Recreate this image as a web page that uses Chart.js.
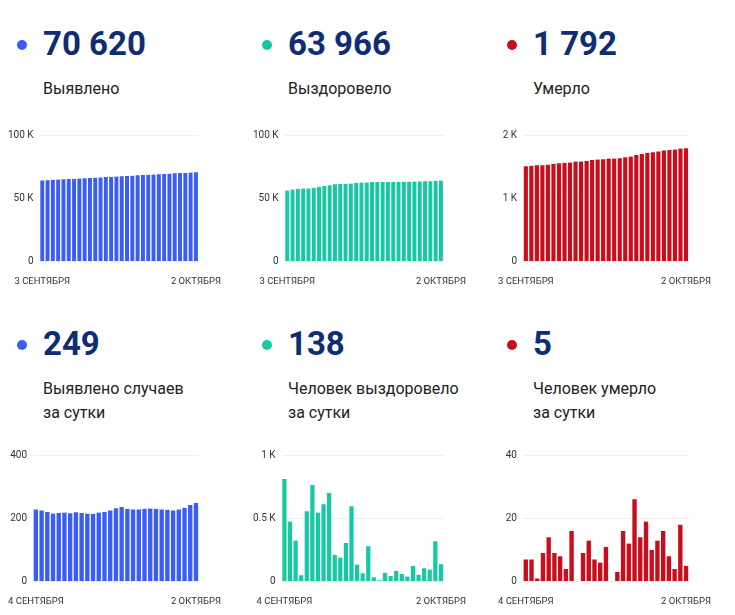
<!DOCTYPE html>
<html><head><meta charset="utf-8">
<script src="https://cdn.jsdelivr.net/npm/chart.js@4"></script>
<style>
body{margin:0;background:#fff;font-family:Roboto,sans-serif;width:735px;height:615px;position:relative;overflow:hidden}
.hd{position:absolute}
.num{position:absolute;font-size:33px;font-weight:700;color:#0e2d72;white-space:nowrap}
.dot{position:absolute;width:10px;height:10px;border-radius:50%}
.lab{position:absolute;font-size:16px;color:#222;line-height:24px;white-space:nowrap}
.cw{position:absolute;width:225px;height:170px}
</style></head><body>
<script>
const cumDays=[];for(let d=3;d<=30;d++)cumDays.push(d+' СЕНТЯБРЯ');cumDays.push('1 ОКТЯБРЯ','2 ОКТЯБРЯ');
const dayDays=cumDays.slice(1);
const casesTotal=[64120,64348,64573,64793,65008,65225,65443,65659,65878,66095,66310,66524,66742,66962,67187,67419,67655,67885,68113,68341,68571,68802,69032,69260,69487,69712,69940,70129,70371,70620];
const recoveredTotal=[56170,56980,57455,57780,57830,58385,59150,59695,60305,61005,61215,61405,61710,62305,62440,62505,62785,62820,62830,62900,62945,63030,63090,63130,63255,63310,63415,63510,63828,63966];
const deathsTotal=[1507,1514,1521,1522,1531,1545,1554,1562,1566,1582,1582,1591,1604,1611,1617,1628,1628,1631,1647,1659,1685,1699,1718,1728,1741,1757,1765,1769,1787,1792];
const casesDaily=[228,225,220,215,217,218,216,219,217,215,214,218,220,225,232,236,230,228,228,230,231,230,228,227,225,228,233,242,249];
const recoveredDaily=[810,475,325,50,555,765,545,610,700,210,190,305,595,135,65,280,35,10,70,45,85,60,40,125,55,105,95,318,138];
const deathsDaily=[7,7,1,9,14,9,8,4,16,0,9,13,7,6,11,0,3,16,12,26,14,19,10,13,16,8,4,18,5];
const blue='#3a5ef5',green='#16c9a3',red='#c90d1c';
const panels=[
 {x:0,y:0,num:'70 620',lab:['Выявлено'],c:blue,labels:cumDays,data:casesTotal,max:100000,step:50000,k:true},
 {x:245,y:0,num:'63 966',lab:['Выздоровело'],c:green,labels:cumDays,data:recoveredTotal,max:100000,step:50000,k:true},
 {x:490,y:0,num:'1 792',lab:['Умерло'],c:red,labels:cumDays,data:deathsTotal,max:2000,step:1000,k:true},
 {x:0,y:300,num:'249',lab:['Выявлено случаев','за сутки'],c:blue,labels:dayDays,data:casesDaily,max:400,step:200},
 {x:245,y:300,num:'138',lab:['Человек выздоровело','за сутки'],c:green,labels:dayDays,data:recoveredDaily,max:1000,step:500,k2:true},
 {x:490,y:300,num:'5',lab:['Человек умерло','за сутки'],c:red,labels:dayDays,data:deathsDaily,max:40,step:20}
];
panels.forEach((p,i)=>{
 const b=document.body;
 const dot=document.createElement('div');dot.className='dot';dot.style.left=(p.x+17)+'px';dot.style.top=(p.y+40)+'px';dot.style.background=p.c;b.appendChild(dot);
 const n=document.createElement('div');n.className='num';n.style.left=(p.x+43)+'px';n.style.top=(p.y+24)+'px';n.textContent=p.num;b.appendChild(n);
 const l=document.createElement('div');l.className='lab';l.style.left=(p.x+43)+'px';l.style.top=(p.y+77)+'px';l.innerHTML=p.lab.join('<br>');b.appendChild(l);
 const w=document.createElement('div');w.className='cw';w.style.left=(p.x+2)+'px';w.style.top=(p.y+p.y/300*20+123)+'px';
 const cv=document.createElement('canvas');w.appendChild(cv);b.appendChild(w);
 new Chart(cv,{type:'bar',data:{labels:p.labels,datasets:[{data:p.data,backgroundColor:p.c,borderColor:'rgba(255,255,255,0.6)',borderWidth:{left:1,right:1,top:0,bottom:0},barPercentage:1,categoryPercentage:1}]},
 options:{responsive:true,maintainAspectRatio:false,animation:false,plugins:{legend:{display:false},tooltip:{enabled:false}},
 layout:{padding:{left:0,right:2,top:4}},
 scales:{y:{min:0,max:p.max,border:{display:false},grid:{color:'#eeeeee',drawTicks:false},
   ticks:{stepSize:p.step,padding:6,color:'#333',font:{family:'Roboto',size:10},callback:v=>{if(v===0)return '0';if(p.k||p.k2)return (v/1000)+' K';return v;}}},
  x:{border:{display:false},grid:{display:false},ticks:{autoSkip:false,maxRotation:0,padding:6,color:'#333',font:{family:'Roboto',size:9.5},
   callback:(v,idx)=>idx===0||idx===p.labels.length-1?p.labels[idx]:''}}}}});
});
</script>
</body></html>
